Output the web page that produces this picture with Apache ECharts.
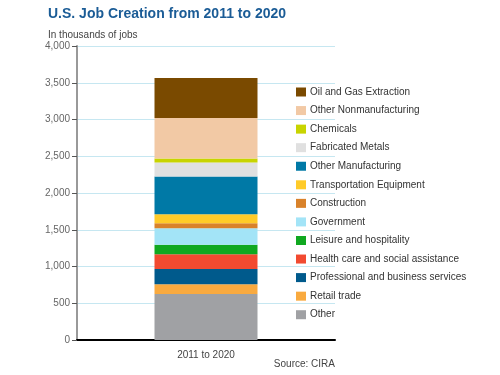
<!DOCTYPE html>
<html lang="en">
<head>
    <meta charset="UTF-8">
    <title>jobCreation</title>
    <script src="https://cdn.jsdelivr.net/npm/echarts@6/dist/echarts.min.js"></script>
</head>
<body style="margin:0;">
<div id="main" style="width: 500px; height: 375px;"></div>
<script type="text/javascript">
    // stacked from the bottom up
    const categories = ['2011 to 2020'];
    const sectors = ['Other', 'Retail trade', 'Professional and business services', 'Health care and social assistance',
        'Leisure and hospitality', 'Government', 'Construction', 'Transportation Equipment', 'Other Manufacturing',
        'Fabricated Metals', 'Chemicals', 'Other Nonmanufacturing', 'Oil and Gas Extraction'];
    const jobs = [625, 135, 205, 200, 130, 225, 70, 120, 515, 190, 55, 550, 545];
    const colors = ['#a0a1a4', '#f9aa3f', '#005a8c', '#f24a30', '#10a820', '#a3e4f7', '#d9822b', '#ffcb29',
        '#0079a6', '#e0e0e0', '#c8d400', '#f2c9a5', '#7a4a00'];
    const yTicks = [0, 500, 1000, 1500, 2000, 2500, 3000, 3500, 4000];

    const font = "'Liberation Sans Narrow', 'Liberation Sans', sans-serif";

    function withCommas(v){
        return String(v).replace(/\B(?=(\d{3})+(?!\d))/g, ',');
    }

    let myChart = echarts.init(document.getElementById('main'));
    const option = {
        animation: false,
        textStyle: {fontFamily: font},
        title: [{
            text: 'U.S. Job Creation from 2011 to 2020',
            left: 43, top: 2,
            textStyle: {color: '#1b5c96', fontSize: 14, fontWeight: 'bold', fontFamily: font}
        }, {
            text: 'In thousands of jobs',
            left: 43, top: 25,
            textStyle: {color: '#444', fontSize: 10, fontWeight: 'normal', fontFamily: font}
        }],
        legend: {
            orient: 'vertical',
            left: 291, top: 82,
            itemWidth: 10, itemHeight: 9, itemGap: 8.56,
            icon: 'rect',
            data: sectors.slice().reverse(),
            textStyle: {color: '#333', fontSize: 10, lineHeight: 9, fontFamily: font, padding: [0, 0, 0, -1]}
        },
        graphic: [{
            type: 'text',
            right: 165, top: 359,
            style: {text: 'Source: CIRA', fill: '#444', fontSize: 10, fontFamily: font}
        }],
        grid: {left: 77, right: 165, top: 46, bottom: 35},
        xAxis: {
            type: 'category',
            data: categories,
            axisLine: {lineStyle: {color: '#000', width: 2}},
            axisTick: {show: false},
            axisLabel: {color: '#444', fontSize: 10, margin: 10, fontFamily: font}
        },
        yAxis: {
            type: 'value',
            min: yTicks[0], max: yTicks[yTicks.length - 1], interval: 500,
            axisLine: {show: true, lineStyle: {color: '#999', width: 2}},
            axisTick: {show: true, length: 5, lineStyle: {color: '#555'}},
            axisLabel: {color: '#666', fontSize: 10, margin: 7, fontFamily: font, formatter: withCommas},
            splitLine: {lineStyle: {color: '#c6e7f1', width: 1}}
        },
        series: sectors.map(function (name, i){
            return {
                name: name,
                type: 'bar',
                stack: 'total',
                barWidth: 103,
                itemStyle: {color: colors[i]},
                data: [jobs[i]]
            };
        })
    };
    myChart.setOption(option);
</script>
</body>
</html>
